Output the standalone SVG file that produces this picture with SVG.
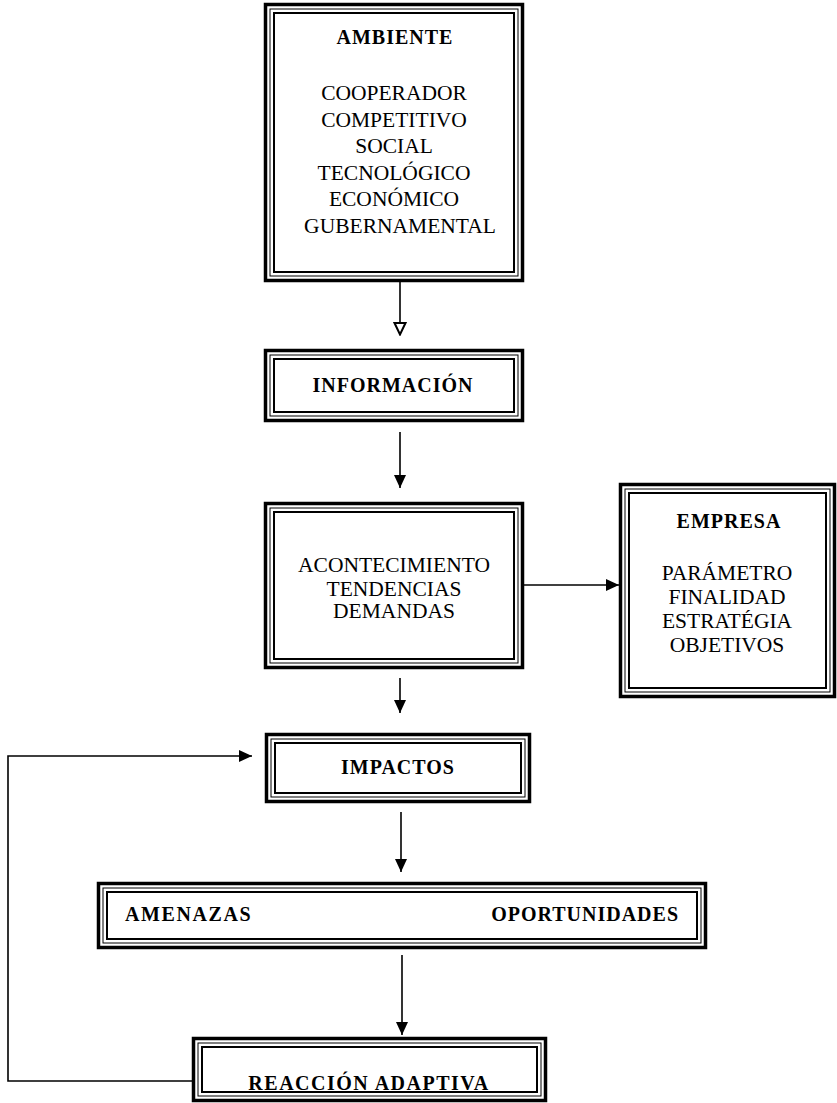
<svg xmlns="http://www.w3.org/2000/svg" width="837" height="1103" viewBox="0 0 837 1103">
  <style>
    .frame-outer { fill: #ffffff; stroke: #000000; stroke-width: 3.5; }
    .frame-mid { fill: none; stroke: #000000; stroke-width: 1; }
    .frame-inner { fill: none; stroke: #000000; stroke-width: 2; }
    .title { font-family: "Liberation Serif", "Times New Roman", serif; font-weight: bold; font-size: 20px; letter-spacing: 1px; fill: #000000; }
    .body { font-family: "Liberation Serif", "Times New Roman", serif; font-size: 21.5px; fill: #000000; }
    .link { fill: none; stroke: #000000; stroke-width: 1.6; }
  </style>
  <defs>
    <marker id="head" markerUnits="userSpaceOnUse" markerWidth="14" markerHeight="14" refX="13" refY="7" orient="auto">
      <path d="M0,1 L13,7 L0,13 Z" fill="#000000"/>
    </marker>
    <marker id="head-open" markerUnits="userSpaceOnUse" markerWidth="14" markerHeight="14" refX="13" refY="7" orient="auto">
      <path d="M1,1.5 L12.5,7 L1,12.5 Z" fill="#ffffff" stroke="#000000" stroke-width="2"/>
    </marker>
  </defs>

  <rect width="837" height="1103" fill="#ffffff"/>

  <!-- connectors -->
  <g id="connectors">
    <path class="link" d="M400,281 V335" marker-end="url(#head-open)"/>
    <path class="link" d="M400,432 V488" marker-end="url(#head)"/>
    <path class="link" d="M523,585 H619" marker-end="url(#head)"/>
    <path class="link" d="M400,678 V713" marker-end="url(#head)"/>
    <path class="link" d="M401,812 V872" marker-end="url(#head)"/>
    <path class="link" d="M402,955 V1035" marker-end="url(#head)"/>
    <path class="link" d="M192,1081 H8 V756 H252" marker-end="url(#head)"/>
  </g>

  <!-- environment -->
  <g id="ambiente">
    <rect class="frame-outer" x="265.5" y="4.5" width="257" height="276"/>
    <rect class="frame-mid" x="270" y="9" width="248" height="267"/>
    <rect class="frame-inner" x="274" y="13" width="240" height="259"/>
    <text class="title" x="395" y="44" text-anchor="middle">AMBIENTE</text>
    <text class="body" x="394" y="100" text-anchor="middle">COOPERADOR</text>
    <text class="body" x="394" y="126.5" text-anchor="middle">COMPETITIVO</text>
    <text class="body" x="394" y="153" text-anchor="middle">SOCIAL</text>
    <text class="body" x="394" y="179.5" text-anchor="middle">TECNOLÓGICO</text>
    <text class="body" x="394" y="206" text-anchor="middle">ECONÓMICO</text>
    <text class="body" x="400" y="232.5" text-anchor="middle">GUBERNAMENTAL</text>
  </g>

  <g id="informacion">
    <rect class="frame-outer" x="265.5" y="350.5" width="257" height="70"/>
    <rect class="frame-mid" x="270" y="355" width="248" height="61"/>
    <rect class="frame-inner" x="274" y="359" width="240" height="53"/>
    <text class="title" x="393" y="392" text-anchor="middle">INFORMACIÓN</text>
  </g>

  <g id="acontecimiento">
    <rect class="frame-outer" x="265.5" y="503.5" width="257" height="164"/>
    <rect class="frame-mid" x="270" y="508" width="248" height="155"/>
    <rect class="frame-inner" x="274" y="512" width="240" height="147"/>
    <text class="body" x="394" y="572" text-anchor="middle">ACONTECIMIENTO</text>
    <text class="body" x="394" y="595.5" text-anchor="middle">TENDENCIAS</text>
    <text class="body" x="394" y="618" text-anchor="middle">DEMANDAS</text>
  </g>

  <g id="empresa">
    <rect class="frame-outer" x="620.5" y="484.5" width="214" height="212"/>
    <rect class="frame-mid" x="625" y="489" width="205" height="203"/>
    <rect class="frame-inner" x="629" y="493" width="197" height="195"/>
    <text class="title" x="729" y="528" text-anchor="middle">EMPRESA</text>
    <text class="body" x="727" y="580" text-anchor="middle">PARÁMETRO</text>
    <text class="body" x="727" y="604" text-anchor="middle">FINALIDAD</text>
    <text class="body" x="727" y="628" text-anchor="middle">ESTRATÉGIA</text>
    <text class="body" x="727" y="652" text-anchor="middle">OBJETIVOS</text>
  </g>

  <g id="impactos">
    <rect class="frame-outer" x="266.5" y="734.5" width="263" height="67"/>
    <rect class="frame-mid" x="271" y="739" width="254" height="58"/>
    <rect class="frame-inner" x="275" y="743" width="246" height="50"/>
    <text class="title" x="398" y="774" text-anchor="middle">IMPACTOS</text>
  </g>

  <g id="amenazas-oportunidades">
    <rect class="frame-outer" x="98.5" y="883.5" width="607" height="64"/>
    <rect class="frame-mid" x="103" y="888" width="598" height="55"/>
    <rect class="frame-inner" x="107" y="892" width="590" height="47"/>
    <text class="title" x="125" y="921" style="letter-spacing:1.6px">AMENAZAS</text>
    <text class="title" x="679" y="921" text-anchor="end">OPORTUNIDADES</text>
  </g>

  <g id="reaccion">
    <rect class="frame-outer" x="193.5" y="1038.5" width="352" height="62"/>
    <rect class="frame-mid" x="198" y="1043" width="343" height="53"/>
    <rect class="frame-inner" x="202" y="1047" width="335" height="45"/>
    <text class="title" x="369" y="1090" text-anchor="middle" style="letter-spacing:1.5px">REACCIÓN ADAPTIVA</text>
  </g>
</svg>
